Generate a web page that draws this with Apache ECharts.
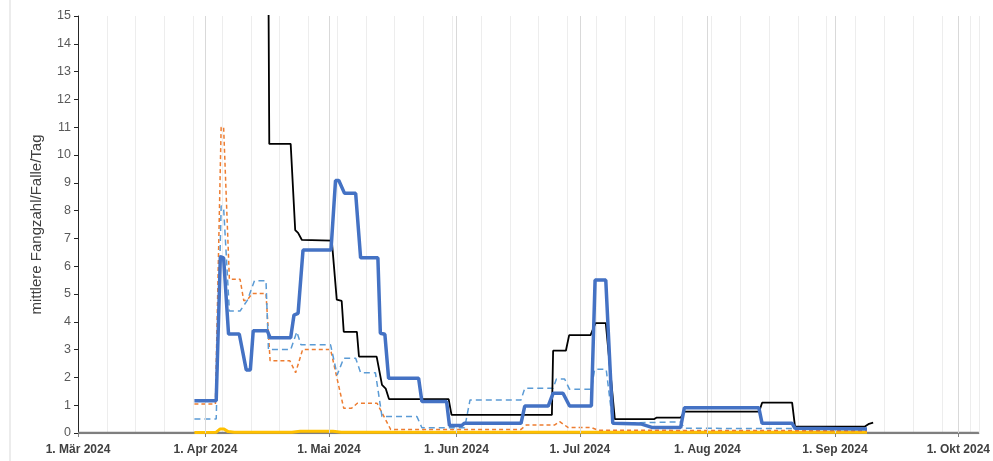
<!DOCTYPE html>
<html>
<head>
<meta charset="utf-8">
<script src="https://cdn.jsdelivr.net/npm/echarts@6/dist/echarts.min.js"></script>
<style>
html, body { margin: 0; padding: 0; background: #fff; }
#chart { width: 993px; height: 461px; }
</style>
</head>
<body>
<div id="chart"></div>
<script>
// x values are days counted from 1. Mär 2024
const monthDays = [0, 31, 61, 92, 122, 153, 184, 214];
const monthLabels = ['1. Mär 2024', '1. Apr 2024', '1. Mai 2024', '1. Jun 2024', '1. Jul 2024', '1. Aug 2024', '1. Sep 2024', '1. Okt 2024'];
const yTicks = [0, 15, 1];

const greyBase = [[0, 0], [219, 0]];

const blackLine = [
    [28.3, 30], [45.8, 30], [46.5, 10.4], [51.7, 10.4], [52.8, 7.3], [53.5, 7.2], [54.4, 6.95],
    [61.7, 6.92], [62.9, 4.8], [64.1, 4.75], [64.6, 3.64], [67.8, 3.64], [68.3, 2.75],
    [72.6, 2.75], [73.9, 1.73], [74.8, 1.6], [75.6, 1.22], [90.1, 1.22], [90.8, 0.65],
    [115.2, 0.65], [115.5, 2.96], [118.6, 2.96], [119.4, 3.52], [124.6, 3.52], [125.8, 3.95],
    [128.3, 3.95], [130.5, 0.5], [140.1, 0.5], [140.6, 0.55], [146.5, 0.55], [147.5, 0.77],
    [165.6, 0.77], [166.3, 1.09], [173.6, 1.09], [174.3, 0.23], [191.3, 0.23], [192.3, 0.33], [193.3, 0.37]
];

const blueLine = [
    [28.3, 1.16], [33.6, 1.16], [34.6, 6.34], [35.4, 6.3], [36.6, 3.56], [39.2, 3.56],
    [40.9, 2.27], [41.9, 2.27], [42.6, 3.68], [46, 3.68], [46.7, 3.43], [51.7, 3.43],
    [52.5, 4.24], [53.5, 4.3], [54.7, 6.58], [61.5, 6.58], [62.6, 9.08], [63.4, 9.08],
    [64.8, 8.62], [67.5, 8.62], [68.7, 6.3], [72.9, 6.3], [73.5, 3.59], [74.6, 3.55],
    [75.5, 1.97], [82.8, 1.97], [83.6, 1.13], [89.6, 1.13], [90.3, 0.27], [93.3, 0.27],
    [93.9, 0.35], [107.7, 0.35], [108.6, 0.97], [114.3, 0.97], [115.5, 1.43], [117.9, 1.43],
    [119.5, 0.97], [124.8, 0.97], [125.7, 5.5], [128.3, 5.5], [130, 0.35], [137, 0.32],
    [139.5, 0.2], [146.5, 0.2], [147.4, 0.91], [165.5, 0.91], [166.3, 0.35], [173.6, 0.35],
    [174.3, 0.17], [191.8, 0.14]
];

const orangeDashed = [
    [28.3, 1.04], [33.4, 1.04], [34.8, 11.0], [35.4, 11.0], [36.8, 5.53], [39.4, 5.53],
    [40.3, 4.76], [41.2, 4.8], [42.4, 5.02], [45.7, 5.02], [46.7, 2.6], [51.5, 2.6],
    [52.9, 2.17], [54.6, 3.0], [61.4, 3.0], [64.6, 0.89], [66.5, 0.89], [67.9, 1.07],
    [72.7, 1.07], [76, 0.13], [107.7, 0.13], [109, 0.29], [115.9, 0.29], [117.1, 0.41],
    [119.1, 0.2], [124.7, 0.2], [126.4, 0.1], [191.8, 0.08]
];

const lightBlueDashed = [
    [28.3, 0.5], [33.6, 0.5], [34.8, 8.17], [35.4, 8.1], [36.8, 4.39], [39.4, 4.39],
    [41.2, 4.78], [42.9, 5.48], [45.7, 5.48], [46.3, 3.0], [51.7, 3.0], [53.2, 3.64],
    [54.2, 3.17], [61.4, 3.17], [63, 2.09], [64.6, 2.69], [67.5, 2.69], [68.7, 2.17],
    [72.3, 2.17], [73.9, 0.59], [82.4, 0.59], [83.6, 0.19], [94, 0.19], [95.3, 1.19],
    [107.7, 1.19], [108.6, 1.61], [115.5, 1.61], [116.3, 1.94], [118.3, 1.94], [119.5, 1.57],
    [124.8, 1.57], [125.6, 2.29], [128.4, 2.29], [130, 0.35], [140, 0.38], [146.5, 0.4],
    [147.4, 0.17], [191.8, 0.15]
];

const yellowLine = [
    [28.3, 0.02], [33.6, 0.03], [34.5, 0.14], [35.5, 0.14], [36.5, 0.05], [38, 0.03],
    [52, 0.03], [54, 0.06], [62, 0.06], [64, 0.03], [191.8, 0.03]
];

const chart = echarts.init(document.getElementById('chart'));

const lineSeries = (data, color, width, type, z) => ({
    type: 'line',
    data: data,
    xAxisIndex: 0,
    symbol: 'none',
    z: z,
    lineStyle: { color: color, width: width, type: type },
    emphasis: { disabled: true }
});

const option = {
    animation: false,
    graphic: [{
        type: 'line',
        shape: { x1: 10, y1: 0, x2: 10, y2: 461 },
        style: { stroke: '#d9d9d9', lineWidth: 1 }
    }],
    grid: { left: 78, right: 11, top: 16, bottom: 28 },
    xAxis: [
        {
            type: 'value',
            min: 0,
            max: 219,
            axisLine: { show: true, lineStyle: { color: '#808080', width: 1 } },
            axisTick: { show: true, customValues: monthDays, length: 4, lineStyle: { color: '#808080' } },
            axisLabel: {
                customValues: monthDays,
                formatter: v => monthLabels[monthDays.indexOf(v)] || '',
                color: '#404040',
                fontFamily: 'Liberation Sans',
                fontWeight: 'bold',
                fontSize: 12,
                margin: 11
            },
            splitLine: { show: false }
        },
        {
            type: 'value',
            min: 0,
            max: 219,
            interval: 7,
            position: 'bottom',
            axisLine: { show: false },
            axisTick: { show: false },
            axisLabel: { show: false },
            splitLine: { show: true, lineStyle: { color: '#ededed', width: 1 } }
        }
    ],
    yAxis: {
        type: 'value',
        min: yTicks[0],
        max: yTicks[1],
        interval: yTicks[2],
        name: 'mittlere Fangzahl/Falle/Tag',
        nameLocation: 'middle',
        nameGap: 34,
        nameTextStyle: { color: '#404040', fontFamily: 'Liberation Sans', fontSize: 15 },
        axisLine: { show: true, lineStyle: { color: '#262626', width: 1 } },
        axisTick: { show: true, length: 4, lineStyle: { color: '#262626' } },
        axisLabel: { color: '#595959', fontFamily: 'Liberation Sans', fontSize: 12.5, margin: 7 },
        splitLine: { show: false }
    },
    series: [
        Object.assign(lineSeries(greyBase, '#7f7f7f', 2.5, 'solid', 1), {
            markLine: {
                silent: true,
                symbol: 'none',
                label: { show: false },
                lineStyle: { color: '#d9d9d9', width: 1, type: 'solid' },
                data: monthDays.slice(1).map(d => ({ xAxis: d }))
            }
        }),
        lineSeries(yellowLine, '#ffc000', 3, 'solid', 2),
        lineSeries(orangeDashed, '#ed7d31', 1.5, [4, 3], 3),
        lineSeries(lightBlueDashed, '#5b9bd5', 1.5, [6, 4], 4),
        lineSeries(blackLine, '#000000', 1.8, 'solid', 5),
        lineSeries(blueLine, '#4472c4', 3.5, 'solid', 6)
    ]
};

chart.setOption(option);
</script>
</body>
</html>
